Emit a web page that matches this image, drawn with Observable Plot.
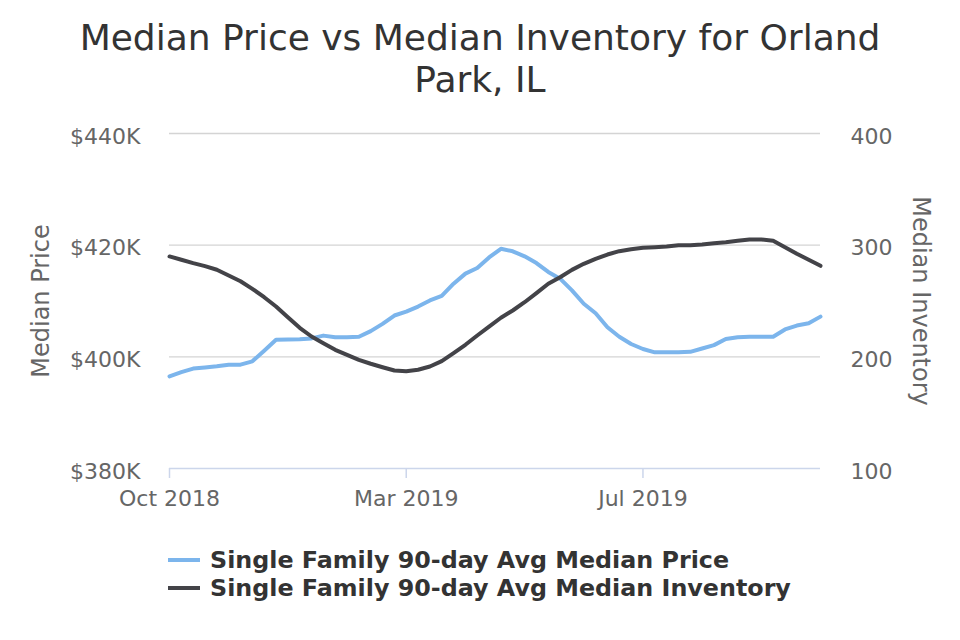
<!DOCTYPE html>
<html>
<head>
<meta charset="utf-8">
<script src="https://cdn.jsdelivr.net/npm/d3@7"></script>
<script src="https://cdn.jsdelivr.net/npm/@observablehq/plot@0.6"></script>
<style>
  html, body { margin: 0; padding: 0; background: #fff; }
  body { width: 960px; height: 640px; position: relative; overflow: hidden; font-family: "DejaVu Sans", sans-serif; }
  #title { position: absolute; top: 17px; left: 0; width: 960px; text-align: center; font-size: 36px; line-height: 42px; color: #333333; }
  #chart { position: absolute; top: 110px; left: 0; }
  #legend { position: absolute; top: 546px; left: 168px; color: #333333; font-size: 23.8px; font-weight: bold; }
  .item { display: flex; align-items: center; height: 28px; white-space: nowrap; }
  .item svg { margin-right: 10px; }
</style>
</head>
<body>
<div id="title">Median Price vs Median Inventory for Orland<br>Park, IL</div>
<div id="chart"></div>
<div id="legend"></div>
<script>
// Weekly 90-day averages, Orland Park, IL (single family)
const priceK = [396.5, 397.25, 397.9, 398.1, 398.3, 398.6, 398.6, 399.2, 401.1, 403.05,
  403.1, 403.15, 403.3, 403.8, 403.5, 403.5, 403.6, 404.6, 405.9, 407.4,
  408.1, 409.0, 410.1, 410.9, 413.1, 414.9, 415.9, 417.8, 419.35, 418.9,
  418.0, 416.8, 415.2, 414.0, 411.9, 409.5, 407.8, 405.3, 403.6, 402.3,
  401.4, 400.8, 400.8, 400.8, 400.9, 401.5, 402.1, 403.2, 403.5, 403.6,
  403.6, 403.6, 404.9, 405.6, 406.0, 407.2];

const inventory = [289.9, 286.9, 283.9, 281.2, 278.0, 272.8, 267.7, 260.9, 253.4, 245.1,
  235.5, 226.0, 218.2, 212.2, 206.3, 201.8, 197.3, 193.8, 190.7, 187.8,
  187.1, 188.4, 191.3, 196.1, 203.3, 210.8, 219.1, 227.0, 235.0, 241.5,
  248.9, 257.0, 265.4, 271.3, 277.9, 283.3, 287.8, 291.6, 294.6, 296.4,
  297.6, 298.2, 298.8, 300.0, 300.0, 300.6, 301.8, 302.7, 303.9, 305.1,
  305.1, 303.9, 298.2, 292.3, 286.9, 281.5];

// Category axis labels (week index -> label)
const xTickWeeks = [0, 20, 40];
const xTickLabels = ["Oct 2018", "Mar 2019", "Jul 2019"];

const priceTicks = [380, 400, 420, 440];
const inventoryTicks = [100, 200, 300, 400];

const seriesNames = ["Single Family 90-day Avg Median Price", "Single Family 90-day Avg Median Inventory"];
const seriesColors = ["#7cb5ec", "#434348"];

// Right axis maps inventory [100, 400] onto the price range [380, 440]
const invToPrice = d3.scaleLinear()
  .domain([inventoryTicks[0], inventoryTicks[inventoryTicks.length - 1]])
  .range([priceTicks[0], priceTicks[priceTicks.length - 1]]);

const chart = Plot.plot({
  width: 960,
  height: 420,
  marginLeft: 169,
  marginRight: 140,
  marginTop: 23,
  marginBottom: 62,
  style: { fontFamily: "DejaVu Sans, sans-serif", fontSize: "22px", background: "transparent", overflow: "visible" },
  x: { type: "linear", domain: [0, priceK.length - 1], axis: null },
  y: { type: "linear", domain: [priceTicks[0], priceTicks[priceTicks.length - 1]], axis: null },
  marks: [
    Plot.ruleY(priceTicks.slice(1), { stroke: "#d4d4d4", strokeWidth: 1.3 }),
    Plot.ruleY([priceTicks[0]], { stroke: "#ccd6eb", strokeWidth: 1.5 }),
    Plot.axisX(xTickWeeks, {
      anchor: "bottom", tickSize: 10, tickPadding: 12, stroke: "#ccd6eb", strokeWidth: 1.5,
      fill: "#666666", fontSize: 22, label: null,
      tickFormat: d => xTickLabels[xTickWeeks.indexOf(d)]
    }),
    Plot.axisY(priceTicks, {
      anchor: "left", tickSize: 0, tickPadding: 29, fill: "#666666", fontSize: 22, label: null,
      dy: 3, tickFormat: d => `$${d}K`
    }),
    Plot.axisY(priceTicks, {
      anchor: "right", tickSize: 0, tickPadding: 30, fill: "#666666", fontSize: 22, label: null,
      dy: 3, textAnchor: "start",
      tickFormat: d => String(inventoryTicks[priceTicks.indexOf(d)])
    }),
    Plot.text(["Median Price"], { frameAnchor: "left", dx: -128, rotate: -90, textAnchor: "middle", fill: "#666666", fontSize: 24, text: d => d }),
    Plot.text(["Median Inventory"], { frameAnchor: "right", dx: 100, rotate: 90, textAnchor: "middle", fill: "#666666", fontSize: 24, text: d => d }),
    Plot.line(priceK, { x: (d, i) => i, y: d => d, stroke: seriesColors[0], strokeWidth: 4, strokeLinejoin: "round", strokeLinecap: "round" }),
    Plot.line(inventory, { x: (d, i) => i, y: d => invToPrice(d), stroke: seriesColors[1], strokeWidth: 4, strokeLinejoin: "round", strokeLinecap: "round" })
  ]
});
document.getElementById("chart").appendChild(chart);

// Legend below the chart
const legend = document.getElementById("legend");
seriesNames.forEach((name, i) => {
  const item = document.createElement("div");
  item.className = "item";
  item.innerHTML = `<svg width="32" height="10"><line x1="0" y1="5" x2="32" y2="5" stroke="${seriesColors[i]}" stroke-width="4"/></svg><span>${name}</span>`;
  legend.appendChild(item);
});
</script>
</body>
</html>
